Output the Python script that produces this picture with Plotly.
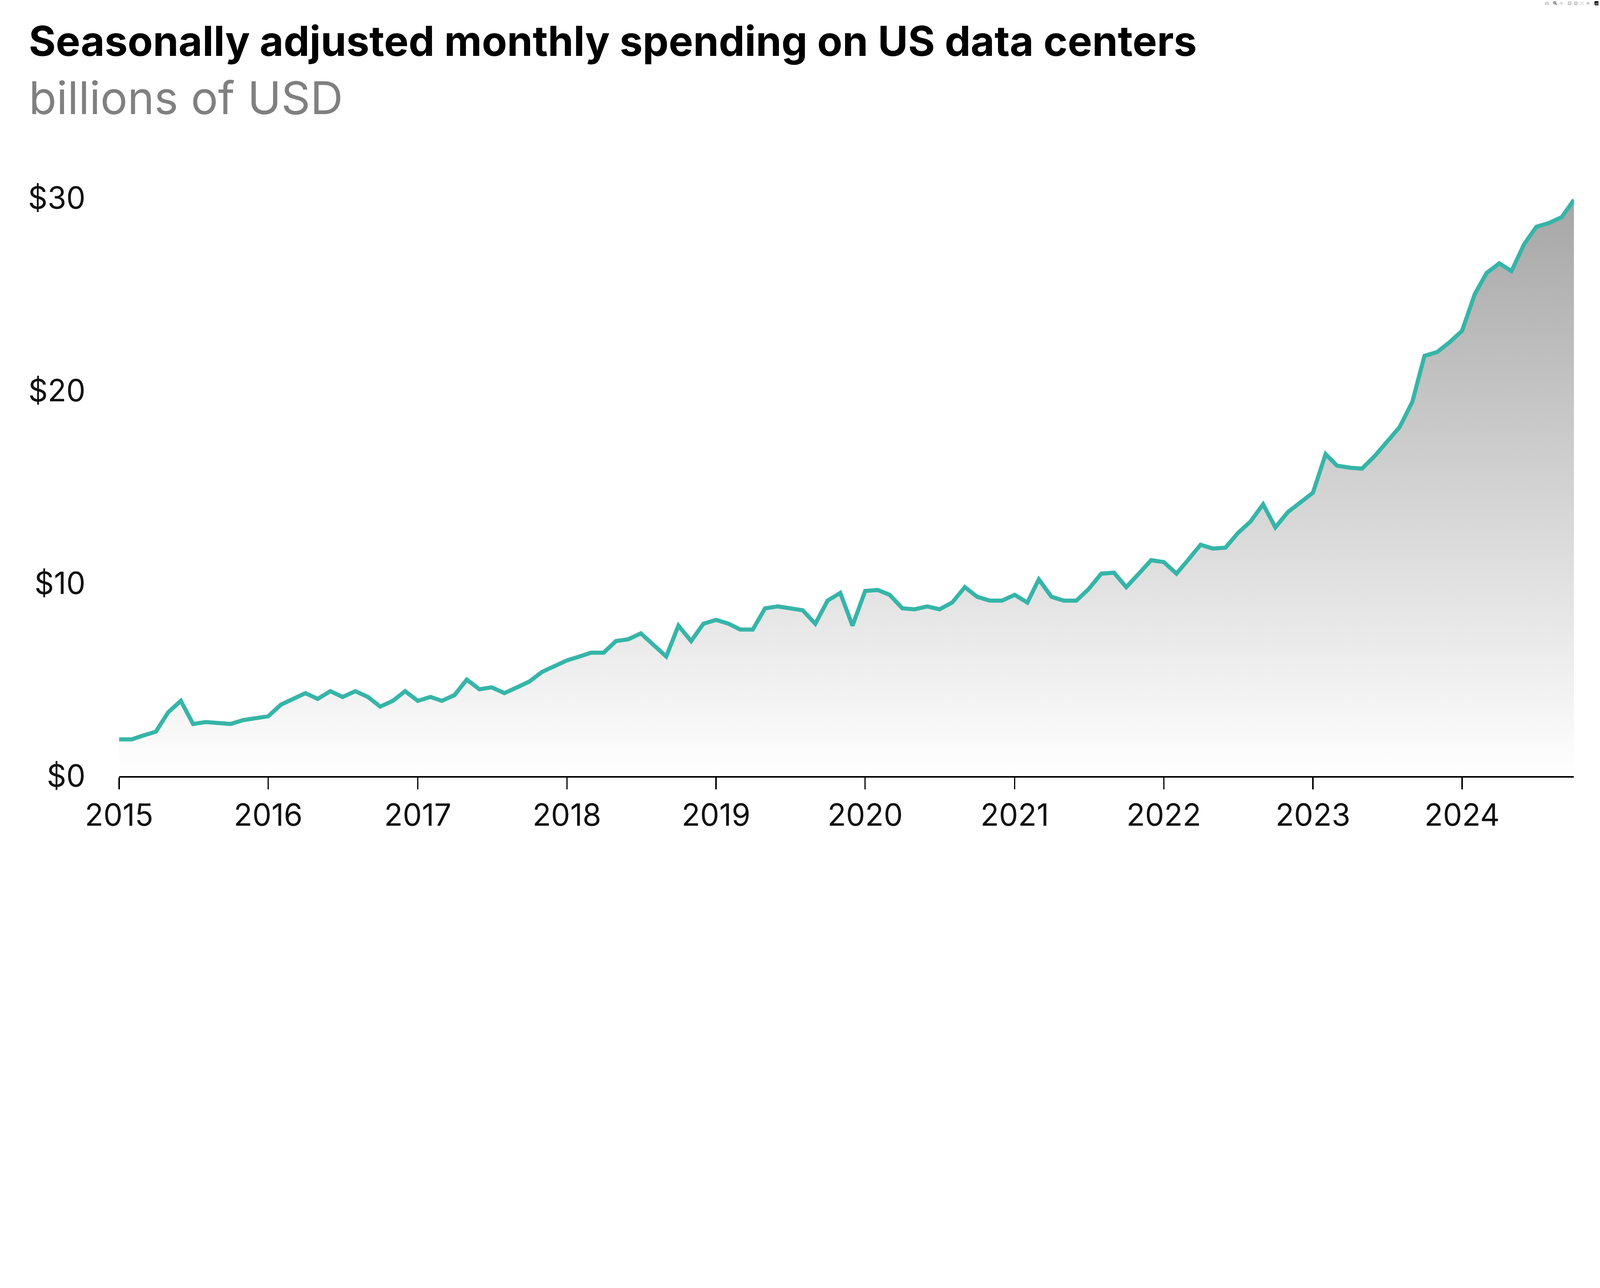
import plotly.graph_objects as go
import pandas as pd

dates = pd.date_range("2015-01-01", "2024-10-01", freq="MS")
spending = [
    1.9, 1.9, 2.1, 2.3, 3.3, 3.9, 2.7, 2.8, 2.75, 2.7, 2.9, 3.0,
    3.1, 3.7, 4.0, 4.3, 4.0, 4.4, 4.1, 4.4, 4.1, 3.6, 3.9, 4.4,
    3.9, 4.1, 3.9, 4.2, 5.0, 4.5, 4.6, 4.3, 4.6, 4.9, 5.4, 5.7,
    6.0, 6.2, 6.4, 6.4, 7.0, 7.1, 7.4, 6.8, 6.2, 7.8, 7.0, 7.9,
    8.1, 7.9, 7.6, 7.6, 8.7, 8.8, 8.7, 8.6, 7.9, 9.1, 9.5, 7.8,
    9.6, 9.65, 9.4, 8.7, 8.65, 8.8, 8.65, 9.0, 9.8, 9.3, 9.1, 9.1,
    9.4, 9.0, 10.2, 9.3, 9.1, 9.1, 9.7, 10.5, 10.55, 9.8, 10.5, 11.2,
    11.1, 10.5, 11.2, 12.0, 11.8, 11.85, 12.6, 13.2, 14.1, 12.9, 13.7, 14.2,
    14.7, 16.7, 16.1, 16.0, 15.95, 16.6, 17.3, 18.1, 19.4, 21.8, 22.0, 22.5,
    23.1, 25.0, 26.1, 26.6, 26.2, 27.6, 28.5, 28.7, 29.0, 29.9,
]
year_ticks = [f"{y}-01-01" for y in range(2015, 2025)]
year_labels = [str(y) for y in range(2015, 2025)]
y_ticks = [0, 10, 20, 30]
y_labels = ["$0", "$10", "$20", "$30"]

W, H = 6219, 3296
L, R, T, B = 463, 101, 765, 281
PW, PH = W - L - R, H - T - B
def px(x): return (x - L) / PW
def py(y): return (H - B - y) / PH

fig = go.Figure()
fig.add_trace(go.Scatter(
    x=dates, y=spending, mode="lines",
    line=dict(color="#36b5a8", width=16),
    fill="tozeroy",
    fillgradient=dict(type="vertical", colorscale=[[0, "rgba(255,255,255,1)"], [1, "#a6a6a6"]]),
))
font = "Inter, Lato, sans-serif"
fig.update_layout(
    width=W, height=H, margin=dict(l=L, r=R, t=T, b=B),
    plot_bgcolor="white", paper_bgcolor="white", showlegend=False,
    font=dict(family=font, color="#111111", size=118),
    xaxis=dict(range=[dates[0], dates[-1]], tickvals=year_ticks, ticktext=year_labels,
               showgrid=False, showline=True, linecolor="black", linewidth=6,
               ticks="outside", ticklen=46, tickwidth=5, tickcolor="black", zeroline=False),
    yaxis=dict(range=[0, 30.05], tickvals=y_ticks, ticktext=y_labels, showgrid=False,
               showline=False, zeroline=False, ticks="", ticklabelstandoff=130),
)
fig.add_annotation(text="<b>Seasonally adjusted monthly spending on US data centers</b>",
                   x=px(110), y=py(60), xref="paper", yref="paper", xanchor="left", yanchor="top",
                   showarrow=False, font=dict(size=160, color="#000000", family=font))
fig.add_annotation(text="billions of USD",
                   x=px(110), y=py(270), xref="paper", yref="paper", xanchor="left", yanchor="top",
                   showarrow=False, font=dict(size=176, color="#808080", family=font))
post = """
(function(){
  document.body.style.margin='0';
  var s=Math.min(window.innerWidth/6219, window.innerHeight/3296);
  if (s < 0.999) { document.body.style.zoom = s; }
})();
"""
fig.write_html("out.html", post_script=post)
